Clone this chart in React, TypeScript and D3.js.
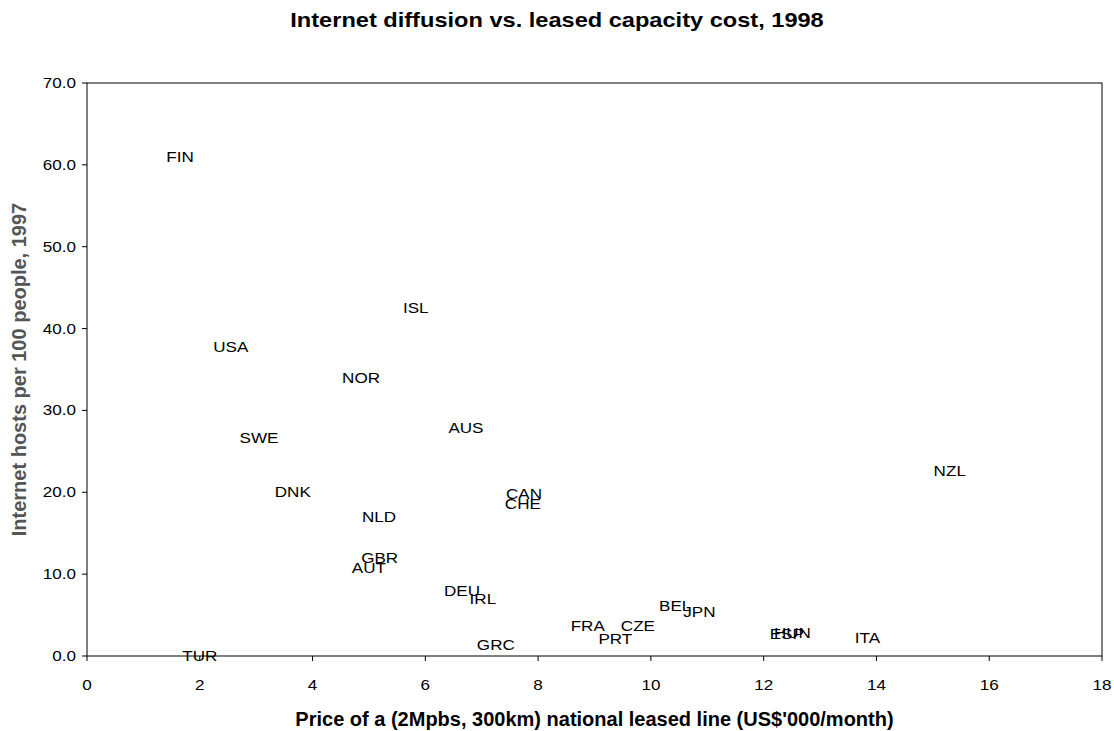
import React from "react";
import * as d3 from "d3";

const countries = ["FIN","ISL","USA","NOR","AUS","SWE","NZL","DNK","CAN","CHE","NLD","GBR","AUT","DEU","IRL","BEL","JPN","FRA","CZE","PRT","ESP","HUN","ITA","GRC","TUR"];
const prices = [1.65,5.83,2.55,4.86,6.72,3.05,15.30,3.65,7.75,7.73,5.18,5.19,5.0,6.65,7.02,10.43,10.86,8.88,9.77,9.37,12.41,12.51,13.84,7.25,2.0];
const hosts = [61.0,42.5,37.7,34.0,27.9,26.6,22.6,20.0,19.8,18.6,17.0,12.0,10.75,7.9,7.0,6.1,5.4,3.7,3.6,2.1,2.7,2.75,2.2,1.3,0.0];
const xTicks = [0,2,4,6,8,10,12,14,16,18];
const yTicks = [0,10,20,30,40,50,60,70];

const W = 1114, H = 731;
const L = 87, R = 1102, T = 83, B = 656;
const FONT = "Liberation Sans, Arial, sans-serif";
const SX = 1.22;

export default function App() {
  const x = d3.scaleLinear().domain([0, 18]).range([L, R]);
  const y = d3.scaleLinear().domain([0, 70]).range([B, T]);
  return (
    <svg width={W} height={H} style={{ position: "absolute", left: 0, top: 0 }} fontFamily={FONT}>
      <rect x={0} y={0} width={W} height={H} fill="#fff" />
      <text transform={`translate(557,27) scale(1.18,1)`} textAnchor="middle" fontSize={20} fontWeight="bold">Internet diffusion vs. leased capacity cost, 1998</text>
      <rect x={L} y={T} width={R - L} height={B - T} fill="none" stroke="#000" strokeWidth={1} />
      {xTicks.map((t) => (
        <g key={"x" + t}>
          <line x1={x(t)} x2={x(t)} y1={B} y2={B + 5} stroke="#000" />
          <text transform={`translate(${x(t)},690) scale(${SX},1)`} textAnchor="middle" fontSize={14}>{t}</text>
        </g>
      ))}
      {yTicks.map((t) => (
        <g key={"y" + t}>
          <line x1={L - 5} x2={L} y1={y(t)} y2={y(t)} stroke="#000" />
          <text transform={`translate(76,${y(t) + 5}) scale(${SX},1)`} textAnchor="end" fontSize={14}>{t.toFixed(1)}</text>
        </g>
      ))}
      <text x={(L + R) / 2} y={726} textAnchor="middle" fontSize={20} fontWeight="bold">Price of a (2Mpbs, 300km) national leased line (US$'000/month)</text>
      <text transform={`translate(26,${(T + B) / 2}) rotate(-90)`} textAnchor="middle" fontSize={20} fontWeight="bold" fill="#555">Internet hosts per 100 people, 1997</text>
      {countries.map((c, i) => (
        <text key={c} transform={`translate(${x(prices[i])},${y(hosts[i])}) scale(${SX},1)`} textAnchor="middle" dominantBaseline="central" fontSize={14}>{c}</text>
      ))}
    </svg>
  );
}
